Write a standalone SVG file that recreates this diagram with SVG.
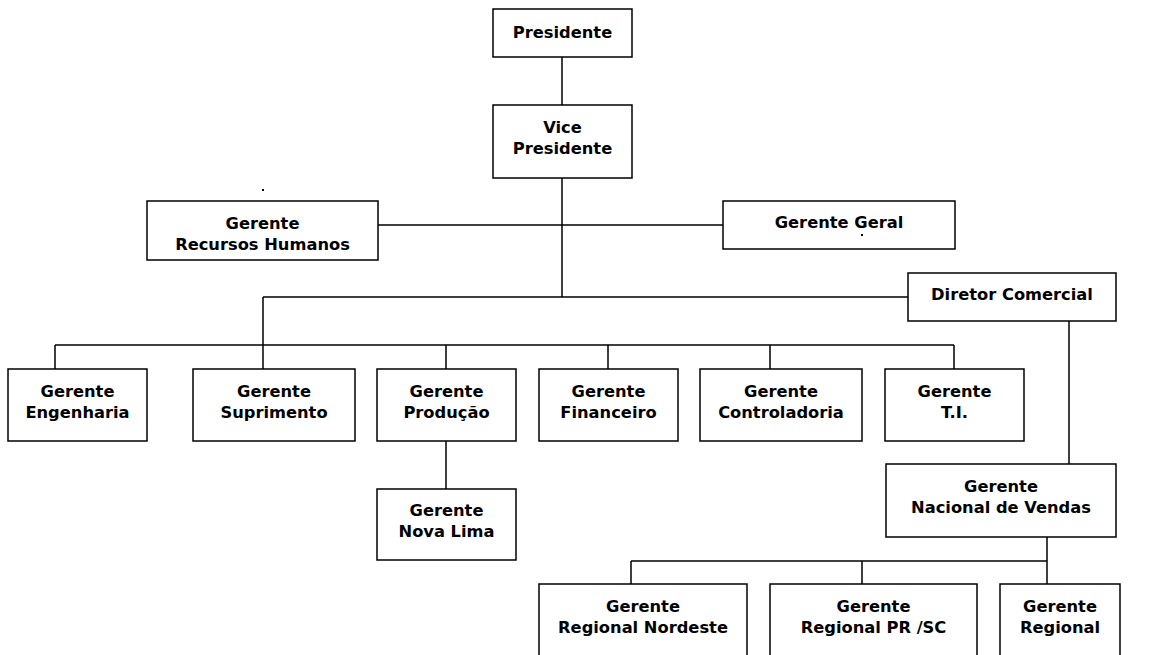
<svg xmlns="http://www.w3.org/2000/svg" width="1160" height="655" viewBox="0 0 1160 655">
<style>
.box{fill:#fff;stroke:#000;stroke-width:1.5}
.t{font-family:"DejaVu Sans",Verdana,sans-serif;font-weight:bold;font-size:16.3px;fill:#000;text-anchor:middle}
.c{fill:none;stroke:#000;stroke-width:1.5}
.dot{fill:#000}
</style>
<rect width="1160" height="655" fill="#fff"/>
<g id="connectors">
<path class="c" d="M562 57V105"/>
<path class="c" d="M562 178V297"/>
<path class="c" d="M378 225H723"/>
<path class="c" d="M263 297H908"/>
<path class="c" d="M263 297V369"/>
<path class="c" d="M55 345H954"/>
<path class="c" d="M55 345V369M446 345V369M608 345V369M770 345V369M954 345V369"/>
<path class="c" d="M446 441V489"/>
<path class="c" d="M1069 321V464"/>
<path class="c" d="M1047 537V584"/>
<path class="c" d="M631 561H1047"/>
<path class="c" d="M631 561V584M862 561V584"/>
</g>
<g id="presidente"><rect class="box" x="493" y="9" width="139" height="48"/><text class="t" x="562.5" y="38">Presidente</text></g>
<g id="vice-presidente"><rect class="box" x="493" y="105" width="139" height="73"/><text class="t" x="562.5" y="133">Vice</text><text class="t" x="562.5" y="154">Presidente</text></g>
<g id="stray-dot-1"><rect class="dot" x="262" y="189" width="2" height="2"/></g>
<g id="gerente-rh"><rect class="box" x="147" y="201" width="231" height="59"/><text class="t" x="262.5" y="229">Gerente</text><text class="t" x="262.5" y="250">Recursos Humanos</text></g>
<g id="gerente-geral"><rect class="box" x="723" y="201" width="232" height="48"/><text class="t" x="839" y="228">Gerente Geral</text><rect class="dot" x="861" y="234" width="2" height="2"/></g>
<g id="diretor-comercial"><rect class="box" x="908" y="273" width="208" height="48"/><text class="t" x="1012" y="300">Diretor Comercial</text></g>
<g id="gerente-engenharia"><rect class="box" x="8" y="369" width="139" height="72"/><text class="t" x="77.5" y="397">Gerente</text><text class="t" x="77.5" y="418">Engenharia</text></g>
<g id="gerente-suprimento"><rect class="box" x="193" y="369" width="162" height="72"/><text class="t" x="274" y="397">Gerente</text><text class="t" x="274" y="418">Suprimento</text></g>
<g id="gerente-producao"><rect class="box" x="377" y="369" width="139" height="72"/><text class="t" x="446.5" y="397">Gerente</text><text class="t" x="446.5" y="418">Produção</text></g>
<g id="gerente-financeiro"><rect class="box" x="539" y="369" width="139" height="72"/><text class="t" x="608.5" y="397">Gerente</text><text class="t" x="608.5" y="418">Financeiro</text></g>
<g id="gerente-controladoria"><rect class="box" x="700" y="369" width="162" height="72"/><text class="t" x="781" y="397">Gerente</text><text class="t" x="781" y="418">Controladoria</text></g>
<g id="gerente-ti"><rect class="box" x="885" y="369" width="139" height="72"/><text class="t" x="954.5" y="397">Gerente</text><text class="t" x="954.5" y="418">T.I.</text></g>
<g id="gerente-nova-lima"><rect class="box" x="377" y="489" width="139" height="71"/><text class="t" x="446.5" y="516">Gerente</text><text class="t" x="446.5" y="537">Nova Lima</text></g>
<g id="gerente-nacional-vendas"><rect class="box" x="886" y="464" width="230" height="73"/><text class="t" x="1001" y="492">Gerente</text><text class="t" x="1001" y="513">Nacional de Vendas</text></g>
<g id="gerente-regional-nordeste"><rect class="box" x="539" y="584" width="208" height="90"/><text class="t" x="643" y="612">Gerente</text><text class="t" x="643" y="633">Regional Nordeste</text></g>
<g id="gerente-regional-prsc"><rect class="box" x="770" y="584" width="207" height="90"/><text class="t" x="873.5" y="612">Gerente</text><text class="t" x="873.5" y="633">Regional PR /SC</text></g>
<g id="gerente-regional"><rect class="box" x="1000" y="584" width="120" height="90"/><text class="t" x="1060" y="612">Gerente</text><text class="t" x="1060" y="633">Regional</text></g>
</svg>
